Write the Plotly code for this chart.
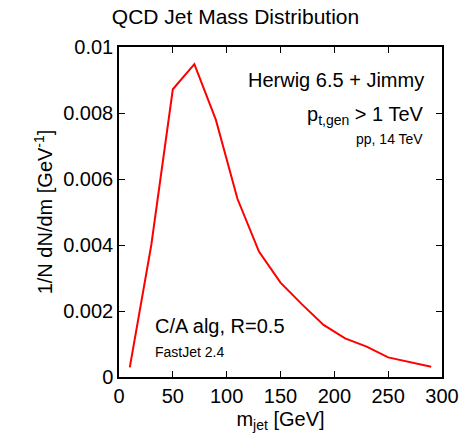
import plotly.graph_objects as go

mass = [10, 30, 50, 70, 90, 110, 130, 150, 170, 190, 210, 230, 250, 270, 290]
density = [0.00029, 0.0040, 0.00872, 0.00948, 0.00779, 0.0054, 0.0038, 0.00286,
           0.0022, 0.00158, 0.00117, 0.00092, 0.000595, 0.00045, 0.00031]

xticks = [0, 50, 100, 150, 200, 250, 300]
yticks = [0, 0.002, 0.004, 0.006, 0.008, 0.01]
yticklabels = ["0", "0.002", "0.004", "0.006", "0.008", "0.01"]

FONT = "Liberation Sans, Arial, Helvetica, sans-serif"

fig = go.Figure()
fig.add_trace(go.Scatter(x=mass, y=density, mode="lines",
                         line=dict(color="#ff0000", width=2), showlegend=False))

axis_common = dict(showgrid=False, zeroline=False, showline=True, linecolor="black",
                   linewidth=1.5, mirror="ticks", ticks="inside", ticklen=6,
                   tickcolor="black", tickwidth=1,
                   tickfont=dict(family=FONT, size=20, color="black"))

fig.update_layout(
    width=471, height=441,
    margin=dict(l=119, r=23, t=47, b=64),
    paper_bgcolor="white", plot_bgcolor="white",
    font=dict(family=FONT, color="black"),
    title=dict(text="QCD Jet Mass Distribution", x=0.5, xanchor="center",
               y=1 - 17 / 441, yanchor="middle", font=dict(family=FONT, size=21)),
    xaxis=dict(range=[0, 300], tickvals=xticks, **axis_common,
               title=dict(text="m<sub>jet</sub> [GeV]", font=dict(family=FONT, size=20), standoff=6)),
    yaxis=dict(range=[0, 0.01], tickvals=yticks, ticktext=yticklabels, **axis_common,
               title=dict(text="1/N dN/dm [GeV<sup>-1</sup>]", font=dict(family=FONT, size=20), standoff=5)),
)

ann = [
    dict(text="Herwig 6.5 + Jimmy", x=432, y=80, size=20, anchor="right"),
    dict(text="p<sub>t,gen</sub> > 1 TeV", x=432, y=115, size=20, anchor="right"),
    dict(text="pp, 14 TeV", x=431, y=139, size=14, anchor="right"),
    dict(text="C/A alg, R=0.5", x=154, y=326, size=20, anchor="left"),
    dict(text="FastJet 2.4", x=154, y=352, size=14, anchor="left"),
]
for a in ann:
    fig.add_annotation(text=a["text"], xref="paper", yref="paper",
                       x=(a["x"] - 119) / (471 - 119 - 23),
                       y=(377 - a["y"]) / (377 - 47),
                       xanchor=a["anchor"], yanchor="middle", showarrow=False,
                       font=dict(family=FONT, size=a["size"], color="black"))

fig.write_html("out.html")
